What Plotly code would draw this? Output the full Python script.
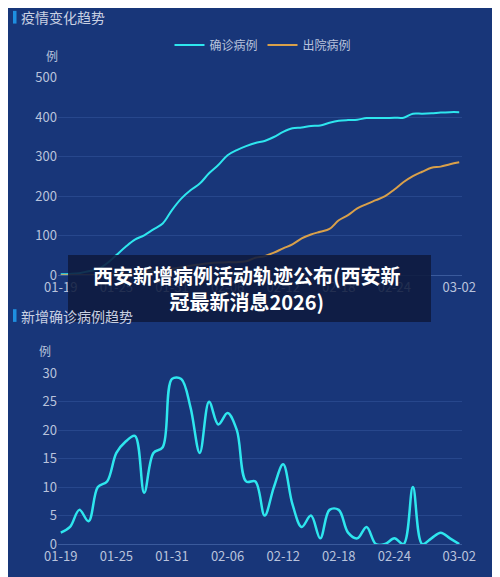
import plotly.graph_objects as go
from datetime import date, timedelta

# 2020-01-19 .. 2020-03-02
days = [(date(2020, 1, 19) + timedelta(days=i)).strftime('%m-%d') for i in range(44)]
tick_labels = ['01-19', '01-25', '01-31', '02-06', '02-12', '02-18', '02-24', '03-02']

confirmed = [2, 3, 5, 10, 15, 30, 51, 72, 90, 101, 116, 131, 165, 194, 215, 232, 258, 279, 304, 317,
             327, 335, 340, 350, 363, 372, 374, 378, 379, 386, 391, 393, 394, 398, 398, 398, 399, 399,
             409, 409, 410, 412, 413, 413]
discharged = [0, 0, 0, 0, 1, 1, 2, 3, 5, 8, 10, 13, 16, 20, 24, 27, 30, 32, 33, 33,
              35, 44, 48, 57, 68, 78, 93, 103, 110, 117, 139, 152, 169, 180, 190, 200, 217, 236,
              251, 262, 272, 275, 281, 286]
new_cases = [2, 3, 6, 4, 10, 11, 16, 18, 19, 9, 16, 17, 29, 29, 24, 16, 25, 21, 23, 20,
             11, 11, 5, 10, 14, 7, 3, 5, 1, 6, 6, 2, 1, 3, 0, 0, 1, 0, 10, 0, 1, 2, 1, 0]

bg = '#183679'
grid = '#27478c'
tick_font = dict(family='Noto Sans CJK SC', size=13, color='#b9c3dc')

fig = go.Figure()
fig.add_trace(go.Scatter(x=days, y=confirmed, name='确诊病例', mode='lines',
                         line=dict(color='#2ee6ee', width=2, shape='spline'), xaxis='x', yaxis='y'))
fig.add_trace(go.Scatter(x=days, y=discharged, name='出院病例', mode='lines',
                         line=dict(color='#d9a04a', width=2, shape='spline'), xaxis='x', yaxis='y'))
fig.add_trace(go.Scatter(x=days, y=new_cases, name='新增确诊', mode='lines', showlegend=False,
                         line=dict(color='#2ee6ee', width=2.5, shape='spline', smoothing=1.0),
                         xaxis='x2', yaxis='y2'))

xcommon = dict(type='category', tickvals=tick_labels, ticktext=tick_labels, showgrid=False,
               tickfont=tick_font, domain=[0.10, 0.908], showline=True, linecolor='#3a5a9c',
               ticks='', range=[-0.3, 43.3])
fig.update_layout(
    width=500, height=577, paper_bgcolor=bg, plot_bgcolor=bg,
    margin=dict(l=0, r=0, t=0, b=0, autoexpand=False),
    font=dict(family='Noto Sans CJK SC'),
    xaxis=dict(xcommon, anchor='y'),
    yaxis=dict(domain=[0.537, 0.879], range=[0, 500], dtick=100, gridcolor=grid,
               tickfont=tick_font, zeroline=False, anchor='x'),
    xaxis2=dict(xcommon, anchor='y2'),
    yaxis2=dict(domain=[0.071, 0.367], range=[0, 30], dtick=5, gridcolor=grid,
                tickfont=tick_font, zeroline=False, anchor='x2'),
    legend=dict(orientation='h', x=0.51, xanchor='center', y=0.936, yanchor='middle',
                font=dict(size=12, color='#b9c3dc'), bgcolor='rgba(0,0,0,0)'),
    showlegend=True,
)

fig.add_shape(type='rect', xref='paper', yref='paper', x0=0.01, x1=0.017, y0=0.973, y1=0.995,
              fillcolor='#1e8fe0', line_width=0)
fig.add_shape(type='rect', xref='paper', yref='paper', x0=0.01, x1=0.017, y0=0.456, y1=0.478,
              fillcolor='#1e8fe0', line_width=0)
fig.add_annotation(text='疫情变化趋势', xref='paper', yref='paper', x=0.022, y=0.984,
                   xanchor='left', yanchor='middle', showarrow=False, font=dict(size=14, color='#c9d0e2'))
fig.add_annotation(text='新增确诊病例趋势', xref='paper', yref='paper', x=0.022, y=0.467,
                   xanchor='left', yanchor='middle', showarrow=False, font=dict(size=14, color='#c9d0e2'))
fig.add_annotation(text='例', xref='paper', yref='paper', x=0.072, y=0.918, yanchor='middle',
                   showarrow=False, font=dict(size=12, color='#b9c3dc'))
fig.add_annotation(text='例', xref='paper', yref='paper', x=0.058, y=0.407, yanchor='middle',
                   showarrow=False, font=dict(size=12, color='#b9c3dc'))

# overlay caption
fig.add_shape(type='rect', xref='paper', yref='paper', x0=0.12, x1=0.846, y0=0.456, y1=0.572,
              fillcolor='rgba(14,26,62,0.88)', line_width=0)
fig.add_annotation(text='<b>西安新增病例活动轨迹公布(西安新<br>冠最新消息2026)</b>', xref='paper', yref='paper',
                   x=0.478, y=0.514, yanchor='middle', showarrow=False, align='center',
                   font=dict(size=20, color='white', family='Noto Sans CJK SC'))

fig.write_html('out.html')
